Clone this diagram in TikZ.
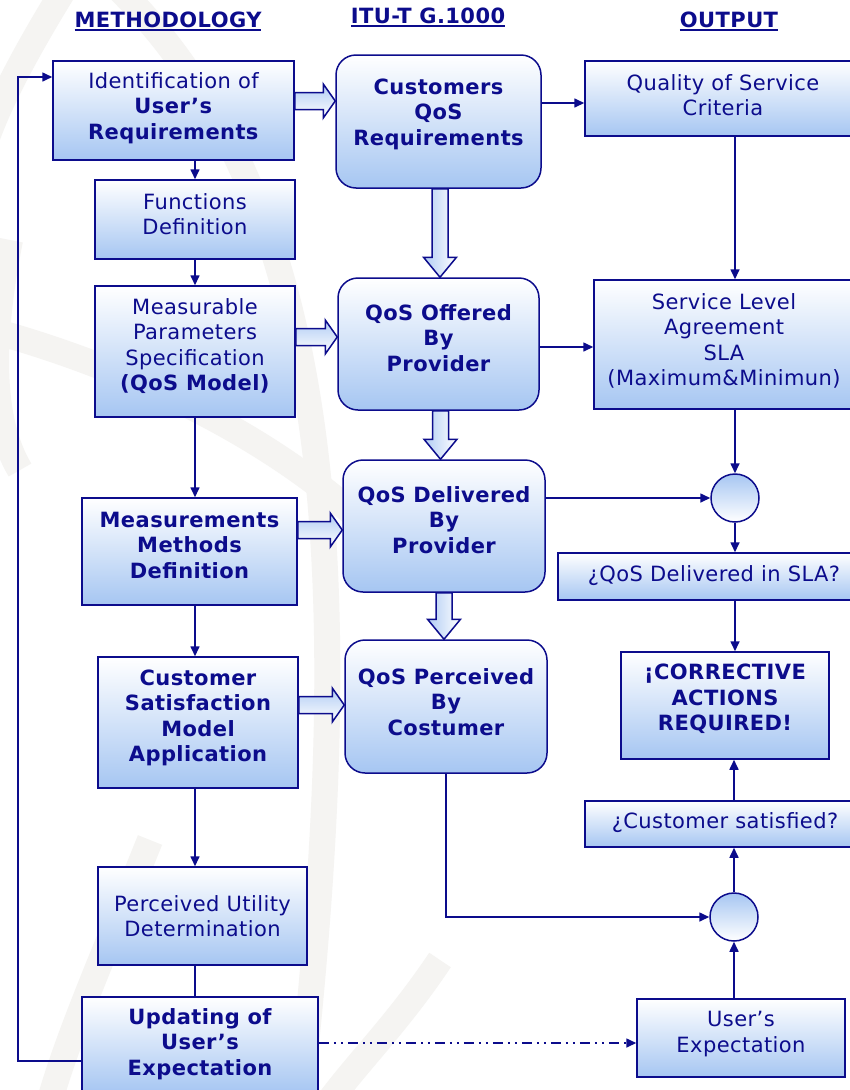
\documentclass[tikz,border=0pt]{standalone}
\usepackage{fontspec}
\setmainfont{DejaVu Sans}[LetterSpace=2]
\usetikzlibrary{arrows.meta,calc}
\definecolor{ink}{RGB}{12,12,140}
\definecolor{boxblue}{RGB}{166,198,242}
\definecolor{arrowblue}{RGB}{176,204,244}
\definecolor{watermark}{RGB}{245,244,242}
\newcommand\hdul[1]{\setbox0\hbox{#1}\rlap{\rule[-3.5pt]{\wd0}{1.7pt}}\box0}
% horizontal block arrow from node #1 to node #2 at height #3
\newcommand\hblock[3]{%
  \coordinate (hbs) at (#1.east |- 0,#3);
  \coordinate (hbe) at (#2.west |- 0,#3);
  \draw[blockarrow, top color=arrowblue, bottom color=white]
    ($(hbs)+(0,-8.5)$) -- ($(hbe)+(-12,-8.5)$) -- ($(hbe)+(-12,-17)$) -- (hbe)
    -- ($(hbe)+(-12,17)$) -- ($(hbe)+(-12,8.5)$) -- ($(hbs)+(0,8.5)$) -- cycle;}
% vertical block arrow from node #1 down to node #2 at abscissa #3
\newcommand\vblock[3]{%
  \coordinate (vbs) at (#1.south -| #3,0);
  \coordinate (vbe) at (#2.north -| #3,0);
  \draw[blockarrow, left color=arrowblue, right color=white]
    ($(vbs)+(-8,0)$) -- ($(vbe)+(-8,-20)$) -- ($(vbe)+(-16.5,-20)$) -- (vbe)
    -- ($(vbe)+(16.5,-20)$) -- ($(vbe)+(8,-20)$) -- ($(vbs)+(8,0)$) -- cycle;}
\tikzset{
  txt/.style={text=ink, align=center, inner sep=0pt,
    font=\fontsize{21}{25.5}\selectfont},
  bftxt/.style={txt, font=\fontsize{21}{25.5}\selectfont\bfseries},
  head/.style={text=ink, inner sep=0pt, anchor=base,
    font=\fontsize{21}{25}\selectfont\bfseries},
  wh/.style 2 args={minimum width=#1pt, minimum height=#2pt},
  box/.style={draw=ink, line width=1.5pt, top color=white, bottom color=boxblue,
    inner sep=0pt},
  rbox/.style={box, rounded corners=20pt},
  circ/.style={draw=ink, line width=1.5pt, circle, minimum size=48pt,
    top color=boxblue, bottom color=white, inner sep=0pt},
  link/.style={draw=ink, line width=1.6pt},
  arr/.style={link, -{Triangle[length=10pt,width=9pt]}},
  dashdotdot/.style={dash pattern=on 10pt off 5pt on 2pt off 5pt on 2pt off 5pt},
  blockarrow/.style={draw=ink, line width=1.5pt, line join=miter},
  band/.style={draw=watermark, line width=26pt, line cap=butt},
}
\begin{document}
\begin{tikzpicture}[x=1pt,y=-1pt]
\clip (0,0) rectangle (850,1090);
\fill[white] (0,0) rectangle (850,1090);

% faint globe emblem behind the chart
\draw[band] (70,-20) .. controls (20,60) and (-10,120) .. (-20,160);
\draw[band] (10,240) .. controls (-10,340) and (-10,420) .. (20,470);
\draw[band] (120,-10) .. controls (330,200) and (360,560) .. (300,1100);
\draw[band] (150,840) .. controls (110,940) and (70,1030) .. (50,1100);
\draw[band] (440,960) .. controls (400,1020) and (360,1060) .. (330,1100);
\draw[band] (-10,330) .. controls (100,360) and (250,420) .. (360,520);

% column headings
\node[head] (hm) at (168,27) {\hdul{METHODOLOGY}};
\node[head] (hi) at (428,23) {\hdul{ITU-T G.1000}};
\node[head] (ho) at (729,27) {\hdul{OUTPUT}};

% methodology column
\node[box, wh={241}{99}] (ident) at (173.5,110.5) {};
\node[txt] (identT) at (173.5,108) {Identification of\\\textbf{User’s}\\\textbf{Requirements}};
\node[box, wh={200}{79}] (func) at (195,219.5) {};
\node[txt] (funcT) at (195,214) {Functions\\Definition};
\node[box, wh={200}{131}] (meas) at (195,351.5) {};
\node[txt] (measT) at (195,346) {Measurable\\Parameters\\Specification\\\textbf{(QoS Model)}};
\node[box, wh={215}{107}] (mmd) at (189.5,551.5) {};
\node[bftxt] (mmdT) at (189.5,545) {Measurements\\Methods\\Definition};
\node[box, wh={200}{131}] (csm) at (198,722.5) {};
\node[bftxt] (csmT) at (198,718) {Customer\\Satisfaction\\Model\\Application};
\node[box, wh={209}{98}] (pud) at (202.5,916) {};
\node[txt] (pudT) at (202.5,916) {Perceived Utility\\Determination};
\node[box, wh={236}{96}] (upd) at (200,1045) {};
\node[bftxt] (updT) at (200,1044) {Updating of\\User’s\\Expectation};

% ITU-T G.1000 column
\node[rbox, wh={205}{133}] (cqr) at (438.5,121.5) {};
\node[bftxt] (cqrT) at (438.5,114) {Customers\\QoS\\Requirements};
\node[rbox, wh={201}{132}] (qop) at (438.5,344) {};
\node[bftxt] (qopT) at (438.5,338) {QoS Offered\\By\\Provider};
\node[rbox, wh={202}{132}] (qdp) at (444,526) {};
\node[bftxt] (qdpT) at (444,520) {QoS Delivered\\By\\Provider};
\node[rbox, wh={202}{133}] (qpc) at (446,706.5) {};
\node[bftxt] (qpcT) at (446,702) {QoS Perceived\\By\\Costumer};

% output column
\node[box, wh={276}{75}] (qsc) at (723,98.5) {};
\node[txt] (qscT) at (723,95) {Quality of Service\\Criteria};
\node[box, wh={281}{129}] (sla) at (734.5,344.5) {};
\node[txt] (slaT) at (724,341) {Service Level\\Agreement\\SLA\\(Maximum\&Minimun)};
\node[circ] (c1) at (735,498) {};
\node[box, wh={312}{47}] (qin) at (714,576.5) {};
\node[txt] (qinT) at (714,576) {¿QoS Delivered in SLA?};
\node[box, wh={208}{107}] (cor) at (725,705.5) {};
\node[bftxt] (corT) at (725,699) {¡CORRECTIVE\\ACTIONS\\REQUIRED!};
\node[box, wh={280}{46}] (csq) at (725,824) {};
\node[txt] (csqT) at (725,823) {¿Customer satisfied?};
\node[circ] (c2) at (734,917) {};
\node[box, wh={208}{78}] (uex) at (741,1038) {};
\node[txt] (uexT) at (741,1034) {User’s\\Expectation};

% methodology chain
\draw[arr] (ident.south -| func.north) -- (func.north);
\draw[arr] (func.south) -- (meas.north);
\draw[arr] (meas.south) -- (meas.south |- mmd.north);
\draw[arr] (mmd.south -| meas.south) -- (meas.south |- csm.north);
\draw[arr] (csm.south -| meas.south) -- (meas.south |- pud.north);
\draw[link] (pud.south -| meas.south) -- (meas.south |- upd.north);
% feedback loop
\coordinate (fb) at (18,0);
\draw[arr] (upd.west |- 0,1061) -- (fb |- 0,1061) -- (fb |- 0,77) -- (ident.west |- 0,77);

% methodology to ITU-T
\hblock{ident}{cqr}{101}
\hblock{meas}{qop}{337}
\hblock{mmd}{qdp}{530}
\hblock{csm}{qpc}{705}
\vblock{cqr}{qop}{440}
\vblock{qop}{qdp}{440.5}
\vblock{qdp}{qpc}{444}

% output chain
\draw[arr] (cqr.east |- 0,103) -- (qsc.west |- 0,103);
\draw[arr] (qsc.south -| c1) -- (sla.north -| c1);
\draw[arr] (qop.east |- 0,347) -- (sla.west |- 0,347);
\draw[arr] (sla.south -| c1) -- (c1.north);
\draw[arr] (qdp.east |- c1) -- (c1.west);
\draw[arr] (c1.south) -- (qin.north -| c1);
\draw[arr] (qin.south -| c1) -- (cor.north -| c1);
\draw[arr] (csq.north -| c2) -- (cor.south -| c2);
\draw[arr] (c2.north) -- (csq.south -| c2);
\draw[arr] (qpc.south) -- (qpc.south |- c2) -- (c2.west);
\draw[arr] (uex.north -| c2) -- (c2.south);
\draw[arr, dashdotdot] (upd.east |- 0,1043) -- (uex.west |- 0,1043);
\end{tikzpicture}
\end{document}
